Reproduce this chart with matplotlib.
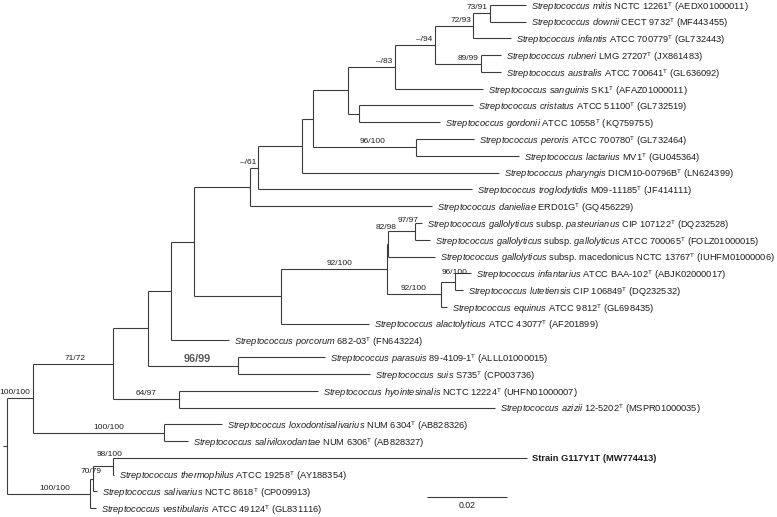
import matplotlib
matplotlib.use("Agg")
import matplotlib.pyplot as plt

plt.rcParams['font.family'] = ['Liberation Sans', 'DejaVu Sans']
plt.rcParams['mathtext.fontset'] = 'custom'
plt.rcParams['mathtext.rm'] = 'Liberation Sans'
plt.rcParams['mathtext.it'] = 'Liberation Sans:italic'
plt.rcParams['mathtext.bf'] = 'Liberation Sans:bold'

# ---------------- tree data (preorder; children in drawing order) ----------------
node_names = ["root", "M", "N", "O", "Q", "L", "K", "J", "I", "H", "F", "E", "D", "B", "A",
              "mitis", "downii", "infantis", "C", "rubneri", "australis", "sanguinis",
              "G", "cristatus", "gordonii", "X", "peroris", "lactarius", "pharyngis",
              "troglodytidis", "danieliae", "S", "T", "W", "U", "pasteurianus", "gallolyticus",
              "macedonicus", "V", "Y", "infantarius", "lutetiensis", "equinus", "alactolyticus",
              "porcorum", "R", "parasuis", "suis", "P", "hyointesinalis", "azizii", "Z",
              "loxodontisalivarius", "saliviloxodantae", "AA", "AB", "AC", "strain",
              "thermophilus", "salivarius", "vestibularis"]
node_parents = [None, "root", "M", "N", "O", "Q", "L", "K", "J", "I", "H", "F", "E", "D", "B",
                "A", "A", "B", "D", "C", "C", "E",
                "F", "G", "G", "H", "X", "X", "I",
                "J", "K", "L", "S", "T", "W", "U", "U",
                "W", "T", "V", "Y", "Y", "V", "S",
                "Q", "O", "R", "R", "N", "P", "P", "M",
                "Z", "Z", "root", "AA", "AB", "AC",
                "AC", "AB", "AA"]
branch_lengths = [0.001, 0.0065, 0.02, 0.00875, 0.00575, 0.00575, 0.014, 0.002, 0.011, 0.00275,
                  0.00875, 0.01175, 0.01, 0.0095, 0.00425,
                  0.009, 0.009, 0.0095, 0.0115, 0.005, 0.005, 0.022,
                  0.00275, 0.0285, 0.02025, 0.02575, 0.0145, 0.02575, 0.04925,
                  0.0535, 0.0455, 0.02175, 0.0265, 0.00025, 0.00675, 0.00175, 0.00375,
                  0.01175, 0.0135, 0.0035, 0.004, 0.002, 0.0015, 0.022,
                  0.0145, 0.0225, 0.02175, 0.033, 0.0165, 0.03475, 0.079, 0.03275,
                  0.0145, 0.006, 0.02075, 0.00075, 0.005, 0.1035,
                  0.00025, 0.001, 0.0015]

support_nodes = ["A", "B", "D", "C", "E", "X", "J", "W", "U", "T", "V", "Y", "R", "P", "N", "M",
                 "Z", "AA", "AB", "AC"]
support_values = ["73/91", "72/93", "\u2013/94", "89/99", "\u2013/83", "96/100", "\u2013/61",
                  "82/98", "97/97", "92/100", "92/100", "96/100", "96/99", "64/97", "71/72",
                  "100/100", "100/100", "100/100", "70/79", "98/100"]

# ---------------- leaf label data ----------------
leaf_keys = ["mitis", "downii", "infantis", "rubneri", "australis", "sanguinis", "cristatus",
             "gordonii", "peroris", "lactarius", "pharyngis", "troglodytidis", "danieliae",
             "pasteurianus", "gallolyticus", "macedonicus", "infantarius", "lutetiensis",
             "equinus", "alactolyticus", "porcorum", "parasuis", "suis", "hyointesinalis",
             "azizii", "loxodontisalivarius", "saliviloxodantae", "strain", "thermophilus",
             "salivarius", "vestibularis"]
leaf_species = ["mitis", "downii", "infantis", "rubneri", "australis", "sanguinis", "cristatus",
                "gordonii", "peroris", "lactarius", "pharyngis", "troglodytidis", "danieliae",
                "gallolyticus", "gallolyticus", "gallolyticus", "infantarius", "lutetiensis",
                "equinus", "alactolyticus", "porcorum", "parasuis", "suis", "hyointesinalis",
                "azizii", "loxodontisalivarius", "saliviloxodantae", None, "thermophilus",
                "salivarius", "vestibularis"]
leaf_subsp = {"pasteurianus": ("pasteurianus", True), "gallolyticus": ("gallolyticus", True),
              "macedonicus": ("macedonicus", False)}
leaf_strains = ["NCTC 12261", "CECT 9732", "ATCC 700779", "LMG 27207", "ATCC 700641", "SK1",
                "ATCC 51100", "ATCC 10558", "ATCC 700780", "MV1", "DICM10-00796B", "M09-11185",
                "ERD01G", "CIP 107122", "ATCC 700065", "NCTC 13767", "ATCC BAA-102",
                "CIP 106849", "ATCC 9812", "ATCC 43077", "682-03", "89-4109-1", "S735",
                "NCTC 12224", "12-5202", "NUM 6304", "NUM 6306", "G117Y1T", "ATCC 19258",
                "NCTC 8618", "ATCC 49124"]
leaf_accessions = ["AEDX01000011", "MF443455", "GL732443", "JX861483", "GL636092", "AFAZ01000011",
                   "GL732519", "KQ759755", "GL732464", "GU045364", "LN624399", "JF414111",
                   "GQ456229", "DQ232528", "FOLZ01000015", "IUHFM01000006", "ABJK02000017",
                   "DQ232532", "GL698435", "AF201899", "FN643224", "ALLL01000015", "CP003736",
                   "UHFN01000007", "MSPR01000035", "AB828326", "AB828327", "MW774413",
                   "AY188354", "CP009913", "GL831116"]
genus = "Streptococcus"
scale_value = 0.02

# ---------------- layout / styles ----------------
W_PX, H_PX = 777, 517
PX_PER_UNIT = 4000.0
X0_PX = 3.0
TOP_PX, ROW_PX = 4.8, 16.78
LINE_C = "#3c3c3c"
TEXT_C = "#1e1e1e"
LW = 0.8
LEAF_FS = 6.65
SUP_FS = 6.0

# label placement styles (mode, dx px, dy px; dy positive = down)
sup_style = {"A": ("node", -2, 0), "B": ("node", -2, 0), "D": ("node", -3, 0),
             "C": ("node", -2, 0), "E": ("node", -3, 0), "X": ("mid", 8, 0),
             "J": ("node", -2, 0), "W": ("node", 9, -11), "U": ("node", 3, -5),
             "T": ("mid", 6, 0), "V": ("mid", 0, 0), "Y": ("center", 0, -4),
             "R": ("mid", 4, 0), "P": ("mid", 0, 0), "N": ("mid", 2, 0),
             "M": ("mid", -5, 0), "Z": ("mid", 10, 0), "AA": ("mid", 6, 0),
             "AB": ("center", -2, -2), "AC": ("center", -3, -6)}

# ---------------- compute layout ----------------
parent = dict(zip(node_names, node_parents))
blen = dict(zip(node_names, branch_lengths))
children = {n: [] for n in node_names}
for n, p in zip(node_names, node_parents):
    if p is not None:
        children[p].append(n)

xpos = {}
for n in node_names:  # preorder guarantees parent first
    p = parent[n]
    xpos[n] = blen[n] + (xpos[p] if p is not None else 0.0)

ypos = {}
leaf_order = [n for n in node_names if not children[n]]
for i, n in enumerate(leaf_order):
    ypos[n] = i
for n in reversed(node_names):
    if children[n]:
        ypos[n] = 0.5 * (ypos[children[n][0]] + ypos[children[n][-1]])

fig = plt.figure(figsize=(W_PX / 100, H_PX / 100), dpi=100)
ax = fig.add_axes([0, 0, 1, 1])
ax.axis("off")
ax.set_xlim(-X0_PX / PX_PER_UNIT, (W_PX - X0_PX) / PX_PER_UNIT)
ax.set_ylim((H_PX - TOP_PX) / ROW_PX, -TOP_PX / ROW_PX)

for n in node_names:
    p = parent[n]
    x_start = xpos[p] if p is not None else 0.0
    ax.plot([x_start, xpos[n]], [ypos[n], ypos[n]], color=LINE_C, lw=LW,
            solid_capstyle="butt")
    if children[n]:
        ax.plot([xpos[n], xpos[n]], [ypos[children[n][0]], ypos[children[n][-1]]],
                color=LINE_C, lw=LW, solid_capstyle="butt")

# leaf labels
for key, sp, st, acc in zip(leaf_keys, leaf_species, leaf_strains, leaf_accessions):
    if sp is None:
        label = "Strain %s (%s)" % (st, acc)
        weight = "bold"
    else:
        weight = "normal"
        label = r"$\it{%s\ %s}$" % (genus, sp)
        if key in leaf_subsp:
            sub, ital = leaf_subsp[key]
            label += " subsp. " + (r"$\it{%s}$" % sub if ital else sub)
        label += r" %s$^{\rm T}$ (%s)" % (st, acc)
    ax.annotate(label, xy=(xpos[key], ypos[key]), xytext=(5, 0),
                textcoords="offset pixels", ha="left", va="center_baseline",
                fontsize=LEAF_FS, color=TEXT_C, fontweight=weight)

# support values
for n, s in zip(support_nodes, support_values):
    mode, dx, dy = sup_style[n]
    if mode == "mid":
        xa = 0.5 * (xpos[parent[n]] + xpos[n]); ha = "center"
    elif mode == "center":
        xa = xpos[n]; ha = "center"
    else:
        xa = xpos[n]; ha = "right"
    fs = SUP_FS * 1.3 if n == "R" else SUP_FS
    col = "#555555" if n == "R" else TEXT_C
    ax.annotate(s, xy=(xa, ypos[n]), xytext=(dx, 2 - dy), textcoords="offset pixels",
                ha=ha, va="bottom", fontsize=fs, color=col,
                fontweight="bold" if n == "R" else "normal")

# scale bar
sb_x = (427 - X0_PX) / PX_PER_UNIT
sb_y = (497 - TOP_PX) / ROW_PX
ax.plot([sb_x, sb_x + scale_value], [sb_y, sb_y], color=LINE_C, lw=LW, solid_capstyle="butt")
ax.annotate("%.2f" % scale_value, xy=(sb_x + scale_value / 2, sb_y), xytext=(0, -4),
            textcoords="offset pixels", ha="center", va="top", fontsize=SUP_FS + 0.3,
            color=TEXT_C)

fig.savefig("out.png", dpi=100)
